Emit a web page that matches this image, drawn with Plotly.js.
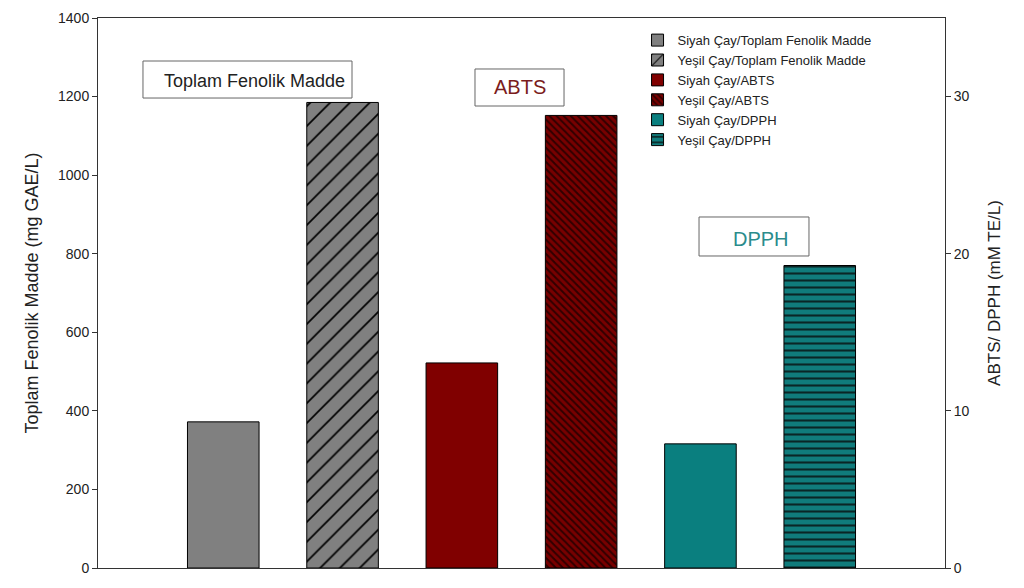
<!DOCTYPE html>
<html>
<head>
<meta charset="utf-8">
<script src="https://cdn.plot.ly/plotly-3.0.1.min.js"></script>
<style>html,body{margin:0;padding:0;background:#fff;}#chart{width:1024px;height:588px;}</style>
</head>
<body>
<div id="chart"></div>
<script>
// Data
const seriesNames = [
  "Siyah Çay/Toplam Fenolik Madde",
  "Yeşil Çay/Toplam Fenolik Madde",
  "Siyah Çay/ABTS",
  "Yeşil Çay/ABTS",
  "Siyah Çay/DPPH",
  "Yeşil Çay/DPPH"
];
const barPositions = [0, 1, 2, 3, 4, 5];
const toplamFenolikValues = [372, 1185];   // mg GAE/L (left axis)
const abtsValues = [13.05, 28.8];           // mM TE/L (right axis)
const dpphValues = [7.9, 19.25];            // mM TE/L (right axis)
const leftTicks = [0, 200, 400, 600, 800, 1000, 1200, 1400];
const rightTicks = [0, 10, 20, 30];
const boxLabels = ["Toplam Fenolik Madde", "ABTS", "DPPH"];

const FONT = "Liberation Sans, Arial, sans-serif";
const allValues = [toplamFenolikValues[0], toplamFenolikValues[1], abtsValues[0], abtsValues[1], dpphValues[0], dpphValues[1]];
const yaxisFor = ["y", "y", "y2", "y2", "y2", "y2"];
const styles = [
  {color: "#808080", pattern: {shape: ""}},
  {color: "#808080", pattern: {shape: "/", fgcolor: "#000000", bgcolor: "#808080", size: 14, solidity: 0.12, fillmode: "replace"}},
  {color: "#800000", pattern: {shape: ""}},
  {color: "#7a0000", pattern: {shape: "\\", fgcolor: "#300000", bgcolor: "#780000", size: 5, solidity: 0.4, fillmode: "replace"}},
  {color: "#0a7f7f", pattern: {shape: ""}},
  {color: "#0f7a7a", pattern: {shape: "-", fgcolor: "#0a2626", bgcolor: "#107c7c", size: 7, solidity: 0.3, fillmode: "replace"}}
];

const traces = seriesNames.map((name, i) => ({
  type: "bar",
  name: name,
  x: [barPositions[i]],
  y: [allValues[i]],
  yaxis: yaxisFor[i],
  width: 0.6,
  marker: {
    color: styles[i].color,
    pattern: styles[i].pattern,
    line: {color: "#000000", width: 1}
  },
  hoverinfo: "name+y"
}));

const layout = {
  width: 1024,
  height: 588,
  margin: {l: 98, r: 79, t: 18, b: 20},
  paper_bgcolor: "#ffffff",
  plot_bgcolor: "#ffffff",
  font: {family: FONT, size: 14, color: "#222"},
  barmode: "overlay",
  showlegend: true,
  legend: {
    x: 0.637, y: 0.987, xanchor: "left", yanchor: "top",
    bgcolor: "rgba(0,0,0,0)",
    font: {family: FONT, size: 13, color: "#222"},
    tracegroupgap: 0
  },
  xaxis: {
    range: [-1.05, 6.05],
    showticklabels: false,
    ticks: "",
    showgrid: false,
    zeroline: false,
    showline: true,
    linecolor: "#333",
    linewidth: 1,
    mirror: true,
    fixedrange: true
  },
  yaxis: {
    range: [0, 1400],
    tickvals: leftTicks,
    ticktext: leftTicks.map(String),
    ticks: "outside",
    ticklen: 5,
    tickcolor: "#333",
    showgrid: false,
    zeroline: false,
    showline: true,
    linecolor: "#333",
    linewidth: 1,
    mirror: true,
    tickfont: {family: FONT, size: 14, color: "#222"},
    title: {text: "Toplam Fenolik Madde (mg GAE/L)", font: {family: FONT, size: 18, color: "#222"}, standoff: 14}
  },
  yaxis2: {
    range: [0, 35],
    overlaying: "y",
    side: "right",
    tickvals: rightTicks,
    ticktext: rightTicks.map(String),
    ticks: "outside",
    ticklen: 5,
    tickcolor: "#333",
    showgrid: false,
    zeroline: false,
    showline: true,
    linecolor: "#333",
    linewidth: 1,
    tickfont: {family: FONT, size: 14, color: "#222"},
    title: {text: "ABTS/ DPPH (mM TE/L)", font: {family: FONT, size: 17, color: "#222"}, standoff: 19}
  },
  shapes: [
    {type: "rect", xref: "paper", yref: "paper", x0: 0.0531, x1: 0.2999, y0: 0.8545, y1: 0.9218, line: {color: "#666", width: 1}},
    {type: "rect", xref: "paper", yref: "paper", x0: 0.4451, x1: 0.5502, y0: 0.8400, y1: 0.9073, line: {color: "#666", width: 1}},
    {type: "rect", xref: "paper", yref: "paper", x0: 0.7096, x1: 0.8394, y0: 0.5673, y1: 0.6382, line: {color: "#666", width: 1}}
  ],
  annotations: [
    {xref: "paper", yref: "paper", x: 0.1848, y: 0.886, xanchor: "center", yanchor: "middle", showarrow: false,
     text: boxLabels[0], font: {family: FONT, size: 18, color: "#222"}},
    {xref: "paper", yref: "paper", x: 0.4982, y: 0.874, xanchor: "center", yanchor: "middle", showarrow: false,
     text: boxLabels[1], font: {family: FONT, size: 20, color: "#7b1c1c"}},
    {xref: "paper", yref: "paper", x: 0.7828, y: 0.598, xanchor: "center", yanchor: "middle", showarrow: false,
     text: boxLabels[2], font: {family: FONT, size: 20, color: "#2b8c8c"}}
  ]
};

Plotly.newPlot("chart", traces, layout, {displayModeBar: false, staticPlot: true});
</script>
</body>
</html>
